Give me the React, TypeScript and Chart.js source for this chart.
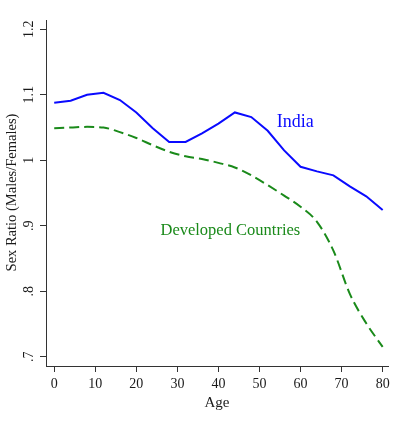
import React, { useEffect, useRef } from "react";
import { Chart, registerables } from "chart.js";

Chart.register(...registerables);

// Age groups (years)
const ages = [0, 4, 8, 12, 16, 20, 24, 28, 32, 36, 40, 44, 48, 52, 56, 60, 64, 68, 72, 76, 80];
// Sex ratio (males per female) by age
const india = [1.088, 1.091, 1.1, 1.103, 1.092, 1.073, 1.049, 1.028, 1.028, 1.041, 1.056, 1.073, 1.066, 1.045, 1.015, 0.99, 0.983, 0.977, 0.96, 0.945, 0.924];
const developed = [1.049, 1.05, 1.051, 1.05, 1.043, 1.034, 1.023, 1.013, 1.006, 1.002, 0.996, 0.989, 0.977, 0.962, 0.946, 0.929, 0.906, 0.862, 0.796, 0.751, 0.715];

const xTicks = [0, 10, 20, 30, 40, 50, 60, 70, 80];
const yTicks = [0.7, 0.8, 0.9, 1.0, 1.1, 1.2];
const yTickLabels = [".7", ".8", ".9", "1", "1.1", "1.2"];

const seriesNames = ["India", "Developed Countries"];
const xTitle = "Age";
const yTitle = "Sex Ratio (Males/Females)";

const BLUE = "#0a0aff";
const GREEN = "#1a8a1a";
const AXIS = "#333333";
const TEXT = "#1a1a1a";
const SERIF = '"Liberation Serif", "Times New Roman", serif';

const textPlugin = {
  id: "annotations",
  afterDraw(chart: any) {
    const ctx = chart.ctx as CanvasRenderingContext2D;
    const xs = chart.scales.x;
    const ys = chart.scales.y;
    ctx.save();
    ctx.fillStyle = TEXT;
    ctx.font = `14px ${SERIF}`;
    ctx.textAlign = "center";
    ctx.textBaseline = "middle";
    // x tick labels
    xTicks.forEach((v) => {
      ctx.fillText(String(v), xs.getPixelForValue(v), 384);
    });
    // y tick labels, rotated
    yTicks.forEach((v, i) => {
      ctx.save();
      ctx.translate(29, ys.getPixelForValue(v));
      ctx.rotate(-Math.PI / 2);
      ctx.fillText(yTickLabels[i], 0, 0);
      ctx.restore();
    });
    // axis titles
    ctx.font = `15px ${SERIF}`;
    ctx.fillText(xTitle, (chart.chartArea.left + chart.chartArea.right) / 2, 403);
    ctx.save();
    ctx.translate(12, 192.5);
    ctx.rotate(-Math.PI / 2);
    ctx.font = `14.5px ${SERIF}`;
    ctx.fillText(yTitle, 0, 0);
    ctx.restore();
    // series labels
    ctx.textBaseline = "alphabetic";
    ctx.fillStyle = BLUE;
    ctx.font = `18px ${SERIF}`;
    ctx.fillText(seriesNames[0], xs.getPixelForValue(58.7), 127);
    ctx.fillStyle = GREEN;
    ctx.font = `16.5px ${SERIF}`;
    ctx.fillText(seriesNames[1], xs.getPixelForValue(42.9), 235);
    ctx.restore();
  },
};

export default function App() {
  const ref = useRef<HTMLCanvasElement | null>(null);

  useEffect(() => {
    if (!ref.current) return;
    const chart = new Chart(ref.current, {
      type: "line",
      data: {
        datasets: [
          {
            label: seriesNames[0],
            data: ages.map((a, i) => ({ x: a, y: india[i] })),
            borderColor: BLUE,
            borderWidth: 2,
            pointRadius: 0,
            tension: 0,
            fill: false,
          },
          {
            label: seriesNames[1],
            data: ages.map((a, i) => ({ x: a, y: developed[i] })),
            borderColor: GREEN,
            borderWidth: 2,
            borderDash: [10, 5],
            pointRadius: 0,
            cubicInterpolationMode: "monotone",
            fill: false,
          },
        ],
      },
      options: {
        animation: false,
        responsive: false,
        events: [],
        layout: { padding: { top: 20, right: 13, left: 0, bottom: 0 } },
        plugins: { legend: { display: false }, tooltip: { enabled: false } },
        scales: {
          x: {
            type: "linear",
            min: -2,
            max: 81.3,
            afterBuildTicks: (axis: any) => {
              axis.ticks = xTicks.map((v) => ({ value: v }));
            },
            afterFit: (axis: any) => {
              axis.height = 56;
            },
            ticks: { display: false },
            grid: { drawOnChartArea: false, drawTicks: true, tickLength: 6, color: AXIS, lineWidth: 1 },
            border: { display: true, color: AXIS, width: 1 },
          },
          y: {
            type: "linear",
            min: 0.6858,
            max: 1.2142,
            afterBuildTicks: (axis: any) => {
              axis.ticks = yTicks.map((v) => ({ value: v }));
            },
            afterFit: (axis: any) => {
              axis.width = 46;
            },
            ticks: { display: false },
            grid: { drawOnChartArea: false, drawTicks: true, tickLength: 6, color: AXIS, lineWidth: 1 },
            border: { display: true, color: AXIS, width: 1 },
          },
        },
      },
      plugins: [textPlugin],
    });
    return () => chart.destroy();
  }, []);

  return (
    <div style={{ position: "fixed", left: 0, top: 0, width: 401, height: 422, background: "#fff" }}>
      <canvas ref={ref} width={401} height={422} style={{ width: 401, height: 422 }} />
    </div>
  );
}
